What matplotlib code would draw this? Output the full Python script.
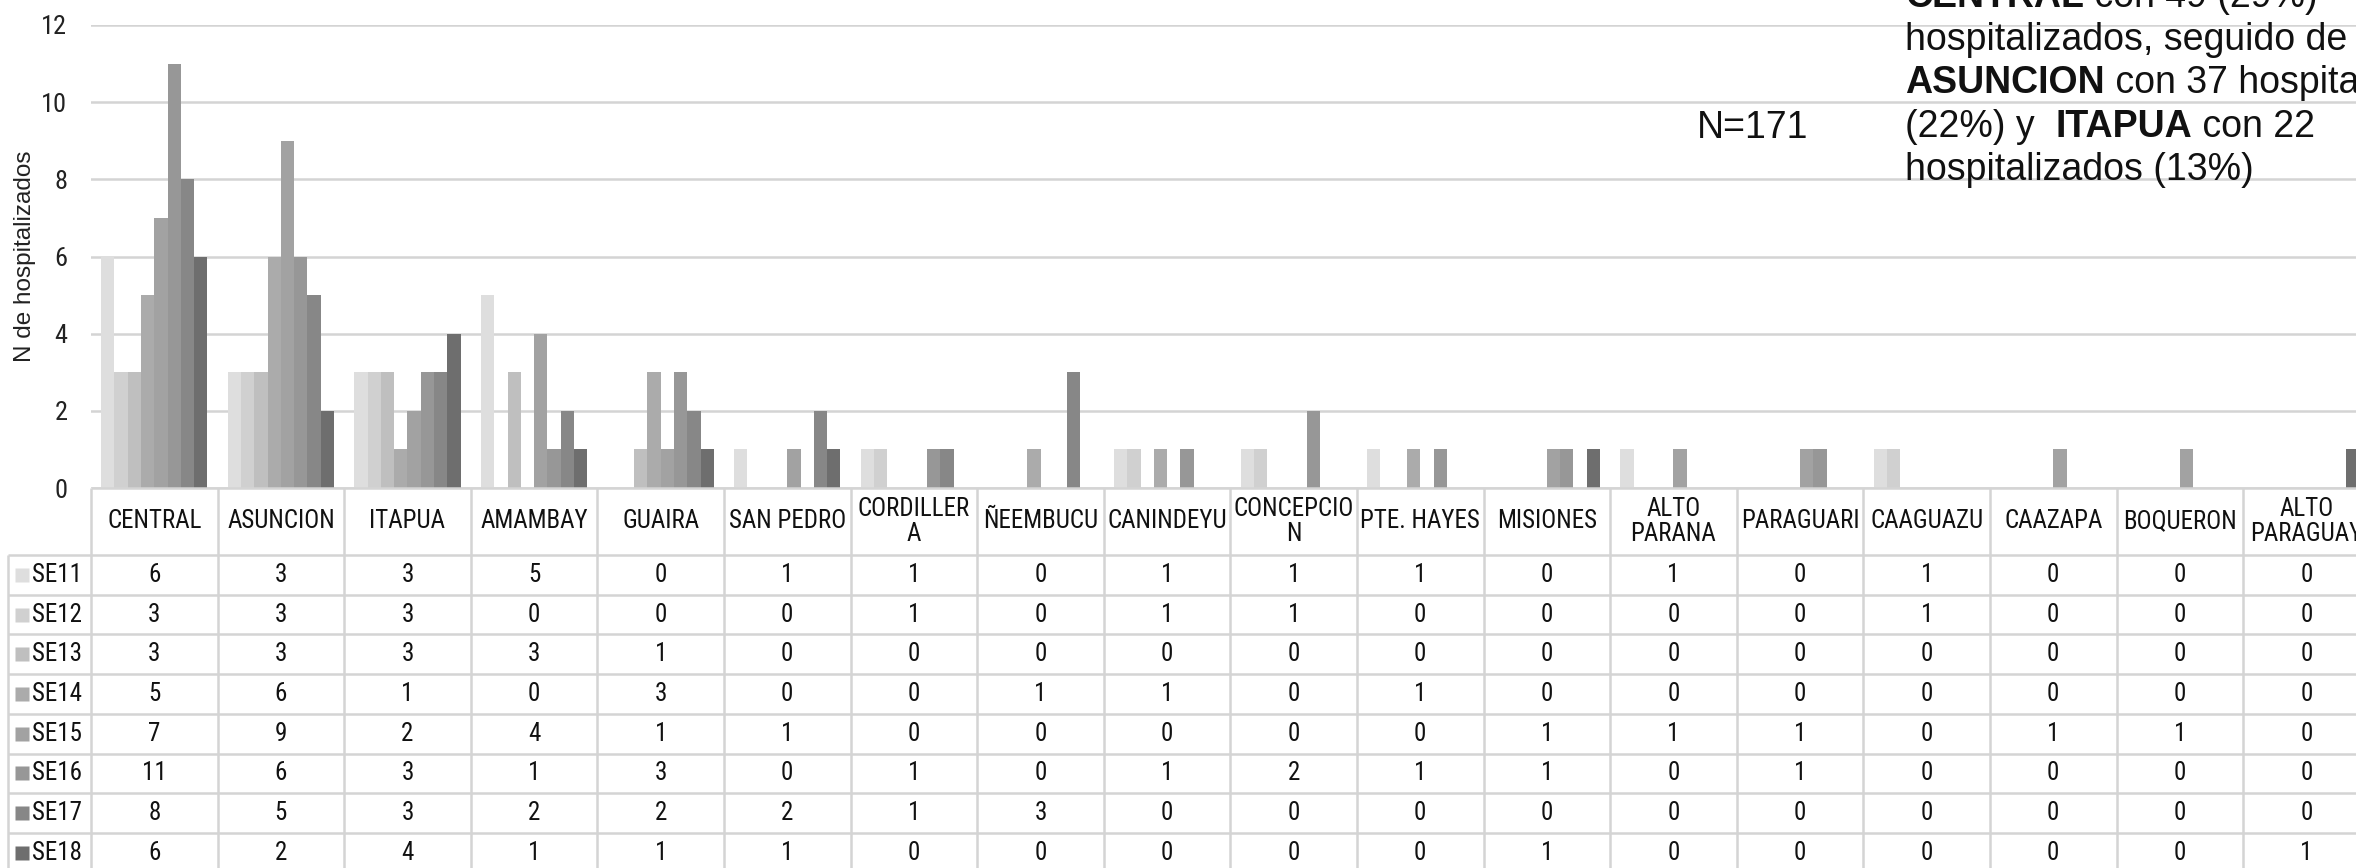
import numpy as np
import matplotlib.pyplot as plt
from matplotlib import font_manager

categories = ["CENTRAL", "ASUNCION", "ITAPUA", "AMAMBAY", "GUAIRA", "SAN PEDRO",
              "CORDILLER\nA", "ÑEEMBUCU", "CANINDEYU", "CONCEPCIO\nN", "PTE. HAYES",
              "MISIONES", "ALTO\nPARANA", "PARAGUARI", "CAAGUAZU", "CAAZAPA",
              "BOQUERON", "ALTO\nPARAGUAY"]
series_names = ["SE11", "SE12", "SE13", "SE14", "SE15", "SE16", "SE17", "SE18"]

se11 = [6, 3, 3, 5, 0, 1, 1, 0, 1, 1, 1, 0, 1, 0, 1, 0, 0, 0]
se12 = [3, 3, 3, 0, 0, 0, 1, 0, 1, 1, 0, 0, 0, 0, 1, 0, 0, 0]
se13 = [3, 3, 3, 3, 1, 0, 0, 0, 0, 0, 0, 0, 0, 0, 0, 0, 0, 0]
se14 = [5, 6, 1, 0, 3, 0, 0, 1, 1, 0, 1, 0, 0, 0, 0, 0, 0, 0]
se15 = [7, 9, 2, 4, 1, 1, 0, 0, 0, 0, 0, 1, 1, 1, 0, 1, 1, 0]
se16 = [11, 6, 3, 1, 3, 0, 1, 0, 1, 2, 1, 1, 0, 1, 0, 0, 0, 0]
se17 = [8, 5, 3, 2, 2, 2, 1, 3, 0, 0, 0, 0, 0, 0, 0, 0, 0, 0]
se18 = [6, 2, 4, 1, 1, 1, 0, 0, 0, 0, 0, 1, 0, 0, 0, 0, 0, 1]
values = [se11, se12, se13, se14, se15, se16, se17, se18]

colors = ["#dedede", "#d0d0d0", "#bfbfbf", "#ababab", "#a2a2a2", "#979797", "#878787", "#6e6e6e"]

# the table uses a narrow font; take a condensed family if one is installed
installed = {f.name for f in font_manager.fontManager.ttflist}
narrow_fam = None
for cand in ["Liberation Sans Narrow", "Arial Narrow", "Roboto Condensed",
             "DejaVu Sans Condensed", "Open Sans Condensed", "Noto Sans Condensed"]:
    if cand in installed:
        narrow_fam = cand
        break
if narrow_fam:
    narrow = [narrow_fam, "DejaVu Sans"]
    tsize = 18
else:
    narrow = ["Liberation Sans", "DejaVu Sans"]
    tsize = 14.5
regular = ["Liberation Sans", "DejaVu Sans"]
grid_col = "#d4d4d4"
txt_col = "#111111"

W, H = 2356, 868
fig = plt.figure(figsize=(W / 100, H / 100), dpi=100)

# pixel layout of the plot area
cat_w = 126.6
ax_left = 91
ax_right = ax_left + len(categories) * cat_w
y_top, y_zero = 25, 488

ax = fig.add_axes([ax_left / W, (H - y_zero) / H, (ax_right - ax_left) / W, (y_zero - y_top) / H])
x = np.arange(len(categories))
bw = 0.105
for j, vals in enumerate(values):
    ax.bar(x + (j - 3.5) * bw, vals, bw, color=colors[j], linewidth=0, zorder=2)

ax.set_xlim(-0.5, len(categories) - 0.5)
ax.set_ylim(0, 12)
ax.set_yticks(range(0, 13, 2))
ax.set_xticks([])
ax.yaxis.grid(True, color=grid_col, lw=1.8)
ax.set_axisbelow(True)
for s in ax.spines.values():
    s.set_visible(False)
ax.tick_params(axis="y", length=0, pad=17, labelsize=tsize + 1, labelcolor="#222222")
for lbl in ax.get_yticklabels():
    lbl.set_fontfamily(narrow)

fig.text(25 / W, 1 - 256 / H, "N de hospitalizados", rotation=90, ha="center", va="center",
         fontsize=17.5, family=regular, color="#222222")

# data table below the chart (y in pixels measured down from the axis line)
tab_h = H - y_zero
tab = fig.add_axes([0, 0, ax_right / W, tab_h / H])
tab.set_xlim(-0.5 - ax_left / cat_w, len(categories) - 0.5)
tab.set_ylim(tab_h, 0)
tab.axis("off")

header_h = 67
row_h = 39.7
x_leg = -0.5 - (ax_left - 8) / cat_w
x_end = len(categories) - 0.5
lk = dict(color=grid_col, lw=1.8, clip_on=False, solid_capstyle="butt")

tab.plot([-0.5, x_end], [0, 0], **lk)
for k in range(len(categories) + 1):
    tab.plot([k - 0.5, k - 0.5], [0, tab_h + 10], **lk)
for r in range(len(series_names) + 1):
    yy = header_h + r * row_h
    tab.plot([x_leg, x_end], [yy, yy], **lk)
tab.plot([x_leg, x_leg], [header_h, tab_h + 10], **lk)

for i, c in enumerate(categories):
    tab.text(i, header_h / 2, c, ha="center", va="center", fontsize=tsize, family=narrow,
             linespacing=1.1, color=txt_col)

for r, (name, vals) in enumerate(zip(series_names, values)):
    yc = header_h + (r + 0.5) * row_h
    tab.plot(-0.5 - (ax_left - 22) / cat_w, yc, marker="s", ms=10, color=colors[r],
             mec="none", clip_on=False)
    tab.text(-0.5 - (ax_left - 32) / cat_w, yc, name, ha="left", va="center",
             fontsize=tsize, family=narrow, color=txt_col)
    for i, v in enumerate(vals):
        tab.text(i, yc, str(v), ha="center", va="center", fontsize=tsize, family=narrow,
                 color=txt_col)

# annotations
fig.text(1697 / W, 1 - 138 / H, "N=171", va="baseline", ha="left", fontsize=27,
         family=regular, color=txt_col)

text_lines = [
    [("CENTRAL", "bold"), (" con 49 (29%)", "normal")],
    [("hospitalizados, seguido de", "normal")],
    [("ASUNCION", "bold"), (" con 37 hospitalizados", "normal")],
    [("(22%) y  ", "normal"), ("ITAPUA", "bold"), (" con 22", "normal")],
    [("hospitalizados (13%)", "normal")],
]
baselines = [7, 50, 93, 137, 180]
for pieces, base in zip(text_lines, baselines):
    prev = None
    for txt, weight in pieces:
        if prev is None:
            prev = fig.text(1905 / W, 1 - base / H, txt, va="baseline", ha="left",
                            fontsize=27, fontweight=weight, family=regular, color=txt_col)
        else:
            # chain the next piece right after the previous one
            prev = ax.annotate(txt, xy=(1, 0), xycoords=prev, va="bottom", ha="left",
                               fontsize=27, fontweight=weight, family=regular, color=txt_col)

fig.savefig("out.png", dpi=100)
